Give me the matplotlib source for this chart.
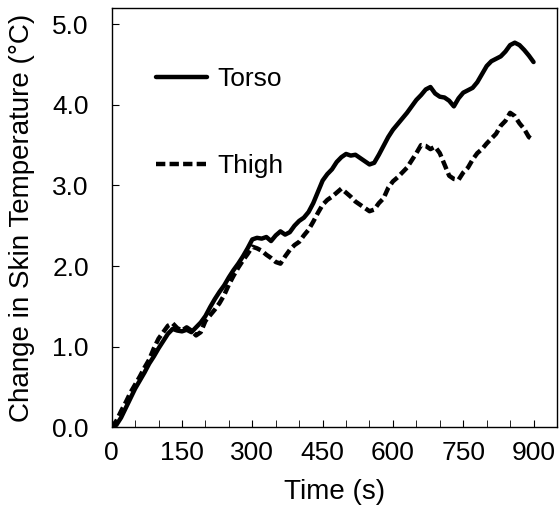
import matplotlib
matplotlib.use('Agg')
import matplotlib.pyplot as plt
from matplotlib.ticker import MultipleLocator

plt.rcParams['font.family'] = ['Liberation Sans', 'DejaVu Sans']

# time axis (s), read every 10 s
time_s = list(range(0, 910, 10))

torso = [0.00, 0.03, 0.12, 0.24, 0.36, 0.48, 0.58, 0.68, 0.79, 0.88,
         0.98, 1.07, 1.16, 1.22, 1.20, 1.19, 1.21, 1.18, 1.24, 1.30,
         1.38, 1.49, 1.59, 1.68, 1.76, 1.86, 1.95, 2.03, 2.12, 2.22,
         2.33, 2.35, 2.34, 2.36, 2.31, 2.38, 2.43, 2.39, 2.42, 2.50,
         2.56, 2.60, 2.67, 2.78, 2.92, 3.06, 3.14, 3.20, 3.29, 3.35,
         3.39, 3.37, 3.38, 3.34, 3.30, 3.26, 3.28, 3.38, 3.49, 3.60,
         3.69, 3.76, 3.83, 3.90, 3.98, 4.06, 4.12, 4.19, 4.22, 4.14,
         4.10, 4.09, 4.05, 3.98, 4.08, 4.15, 4.18, 4.21, 4.28, 4.38,
         4.48, 4.54, 4.57, 4.60, 4.66, 4.74, 4.77, 4.74, 4.68, 4.61,
         4.53]

thigh = [0.00, 0.08, 0.20, 0.31, 0.43, 0.53, 0.63, 0.74, 0.84, 0.98,
         1.10, 1.18, 1.26, 1.29, 1.23, 1.20, 1.24, 1.20, 1.14, 1.18,
         1.32, 1.39, 1.46, 1.54, 1.64, 1.77, 1.88, 1.98, 2.07, 2.15,
         2.24, 2.22, 2.19, 2.14, 2.10, 2.05, 2.03, 2.12, 2.20, 2.26,
         2.30, 2.38, 2.45, 2.55, 2.66, 2.76, 2.82, 2.86, 2.91, 2.96,
         2.91, 2.86, 2.80, 2.76, 2.72, 2.68, 2.70, 2.78, 2.84, 2.97,
         3.05, 3.10, 3.16, 3.22, 3.31, 3.40, 3.50, 3.49, 3.45, 3.48,
         3.40, 3.26, 3.12, 3.08, 3.07, 3.16, 3.22, 3.32, 3.40, 3.45,
         3.52, 3.58, 3.64, 3.74, 3.80, 3.90, 3.86, 3.77, 3.70, 3.60,
         3.56]

fig = plt.figure(figsize=(5.59, 5.13), dpi=100)
ax = fig.add_axes([0.1998, 0.167, 0.7966, 0.8174])

ax.plot(time_s, torso, color='black', lw=3.2, solid_capstyle='round', label='Torso')
ax.plot(time_s, thigh, color='black', lw=3.2, linestyle=(0, (2.1, 0.95)), label='Thigh')

ax.set_xlim(0, 950)
ax.set_ylim(0, 5.2)
ax.xaxis.set_major_locator(MultipleLocator(150))
ax.xaxis.set_minor_locator(MultipleLocator(50))
ax.yaxis.set_major_locator(MultipleLocator(1.0))
ax.yaxis.set_major_formatter(lambda v, p: '%.1f' % v)
ax.tick_params(axis='both', which='both', direction='in', labelsize=19)
ax.tick_params(axis='x', which='major', length=5, pad=10)
ax.tick_params(axis='x', which='minor', length=5)
ax.tick_params(axis='y', which='major', length=5, pad=16.5)
for s in ax.spines.values():
    s.set_linewidth(1.0)

ax.set_xlabel('Time (s)', fontsize=20, labelpad=10)
ax.set_ylabel('Change in Skin Temperature (°C)', fontsize=20, labelpad=12)

ax.legend(loc='upper left', bbox_to_anchor=(0.099, 0.859), frameon=False,
          fontsize=19, handlelength=1.93, handletextpad=0.42, labelspacing=2.4,
          borderpad=0, borderaxespad=0)

fig.savefig('out.png', dpi=100)
